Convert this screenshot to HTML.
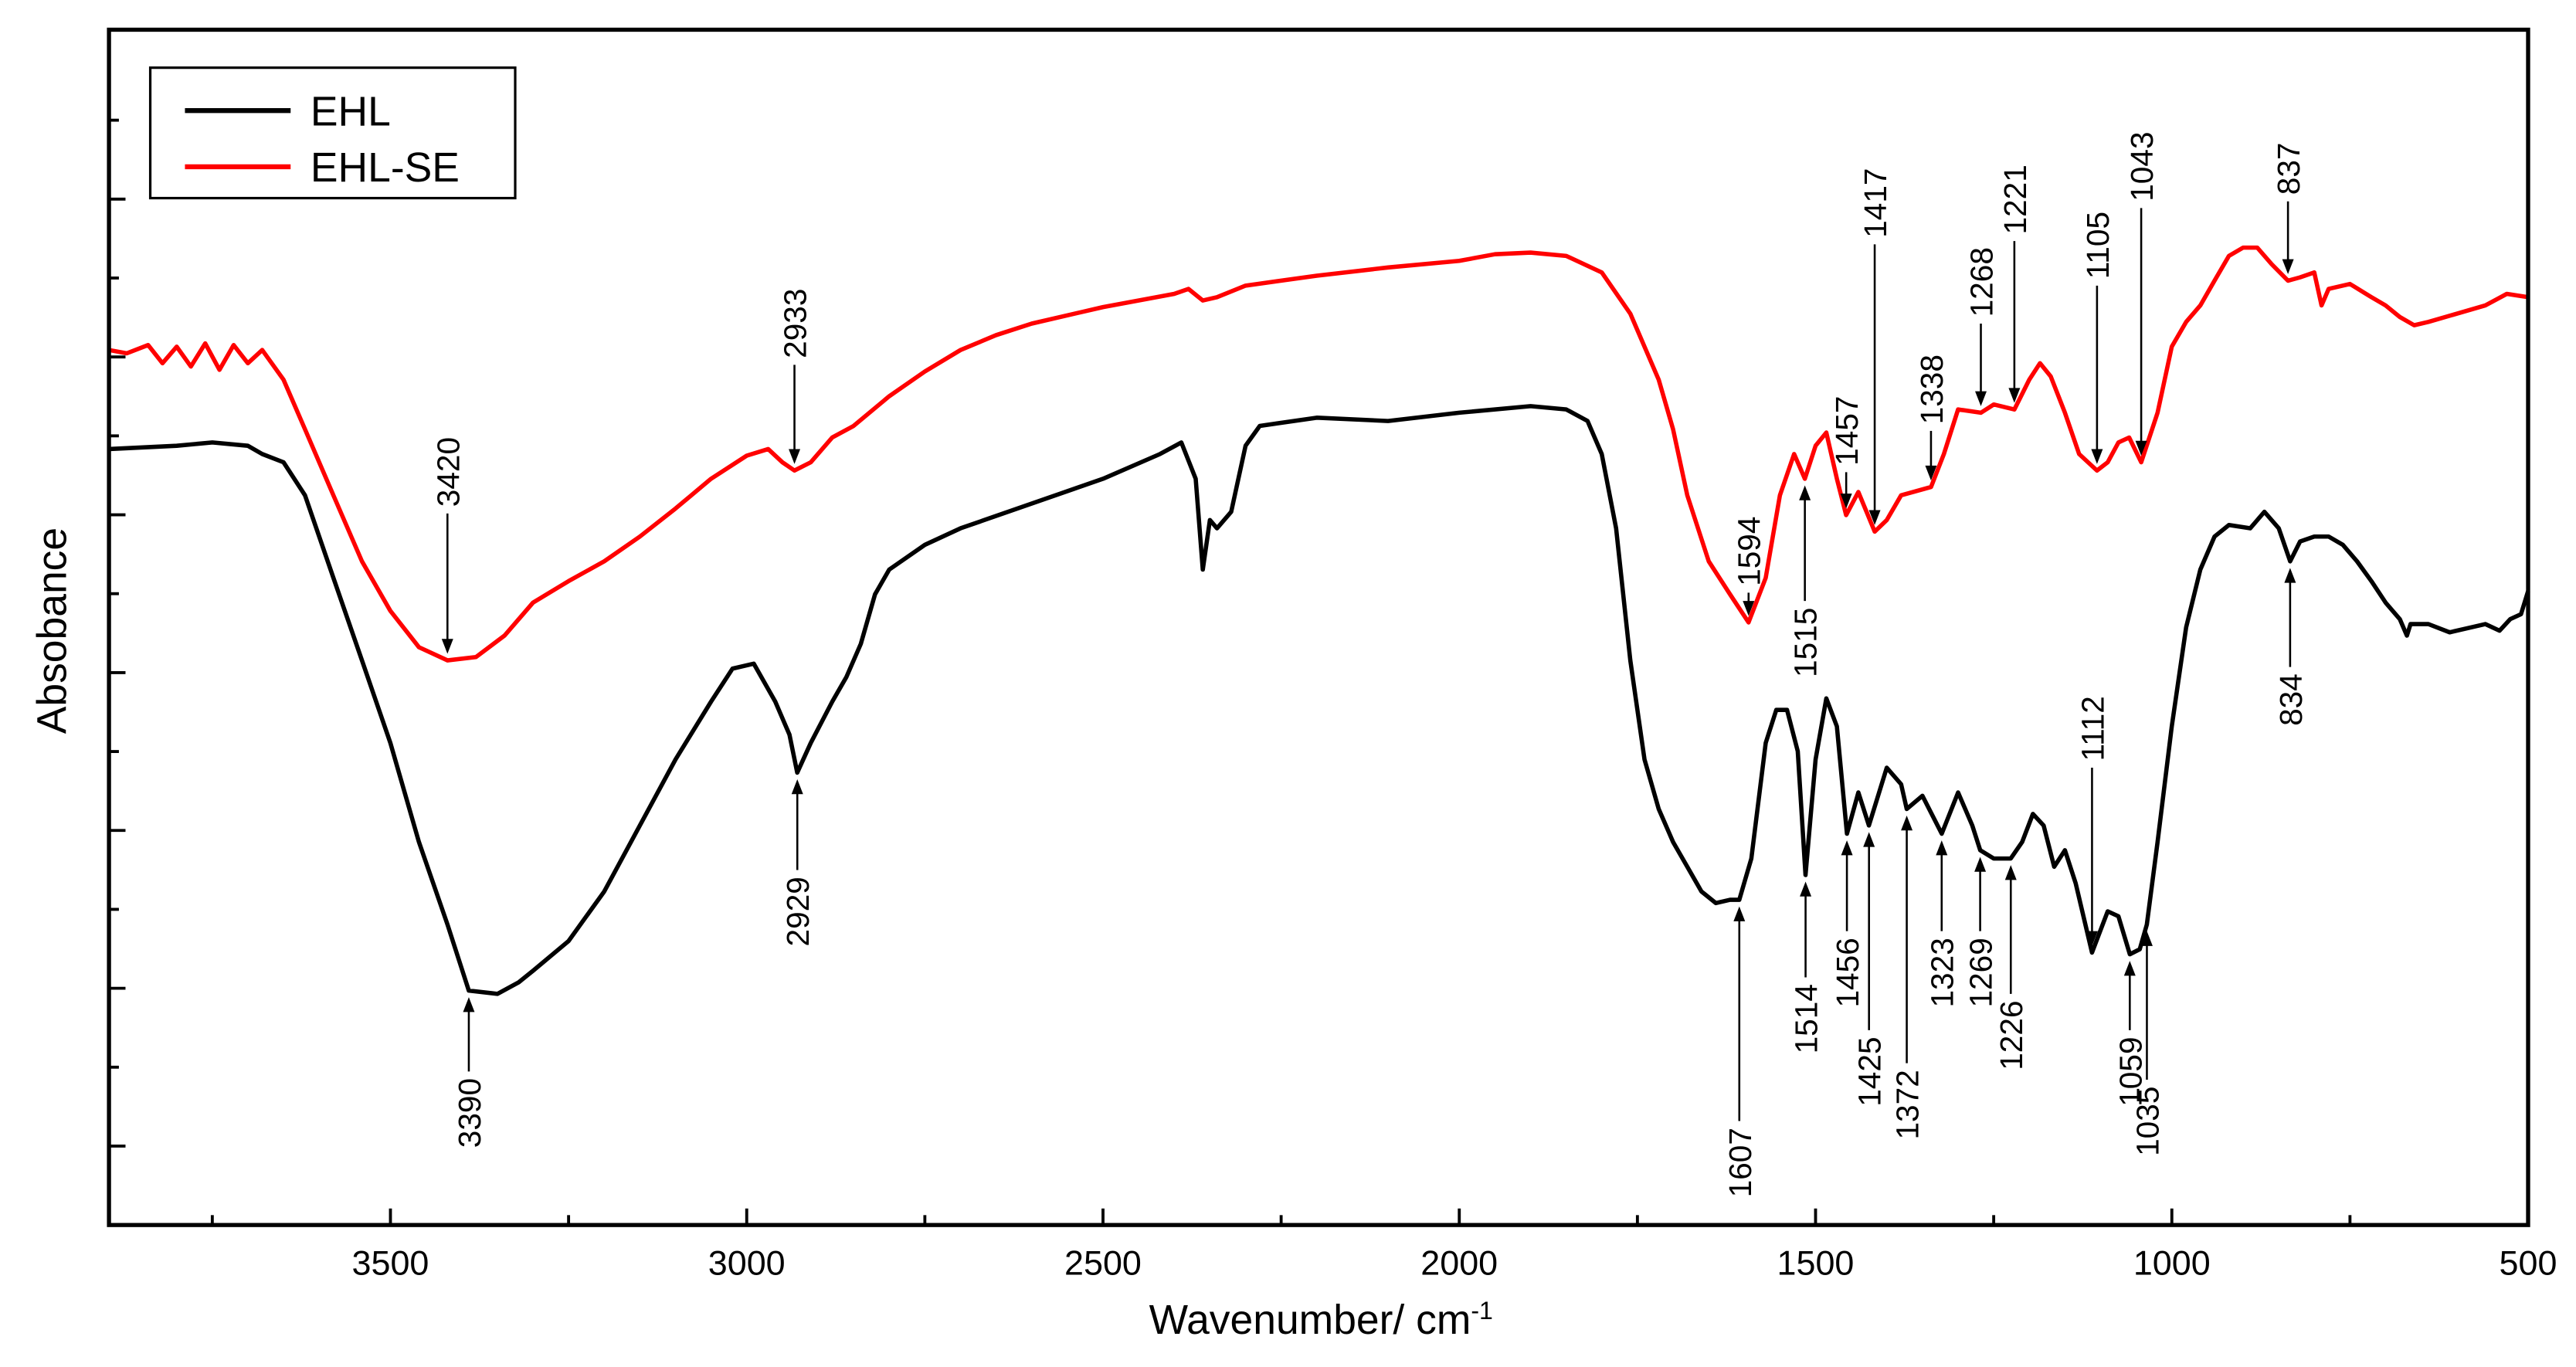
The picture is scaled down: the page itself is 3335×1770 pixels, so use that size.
<!DOCTYPE html>
<html><head><meta charset="utf-8"><style>html,body{margin:0;padding:0;background:#fff}svg{display:block}</style></head>
<body>
<svg id="chart" xmlns="http://www.w3.org/2000/svg" width="3335" height="1770" viewBox="0 0 1560 828" preserveAspectRatio="none" font-family="'Liberation Sans', Arial, sans-serif">
<rect width="1560" height="828" fill="#fff"/>
<g id="plot"></g>
</svg>
<script>
const xTicks = [3500, 3000, 2500, 2000, 1500, 1000, 500];
const ehlWn = [3895,3800,3750,3700,3680,3650,3620,3580,3540,3500,3460,3420,3390,3350,3320,3300,3250,3200,3150,3100,3050,3020,2990,2960,2940,2929,2910,2880,2860,2840,2820,2800,2750,2700,2600,2500,2420,2390,2370,2360,2350,2340,2320,2300,2280,2200,2100,2000,1900,1850,1820,1800,1780,1760,1740,1720,1700,1680,1660,1640,1620,1607,1590,1570,1555,1540,1525,1514,1500,1485,1470,1456,1440,1425,1400,1380,1372,1350,1323,1300,1280,1269,1250,1226,1210,1195,1180,1165,1150,1135,1112,1090,1075,1059,1045,1035,1020,1000,980,960,940,920,890,870,850,834,820,800,780,760,740,720,700,680,670,665,640,610,580,560,540,525,510,500];
const ehlAbs = [4.70,4.72,4.74,4.72,4.67,4.62,4.42,3.92,3.42,2.92,2.32,1.82,1.42,1.40,1.47,1.54,1.72,2.02,2.42,2.82,3.17,3.37,3.40,3.17,2.97,2.74,2.92,3.17,3.32,3.52,3.82,3.97,4.12,4.22,4.37,4.52,4.67,4.74,4.52,3.97,4.27,4.22,4.32,4.72,4.84,4.89,4.87,4.92,4.96,4.94,4.87,4.67,4.22,3.42,2.82,2.52,2.32,2.17,2.02,1.95,1.97,1.97,2.22,2.92,3.12,3.12,2.87,2.12,2.82,3.19,3.02,2.37,2.62,2.42,2.77,2.67,2.52,2.60,2.37,2.62,2.42,2.27,2.22,2.22,2.32,2.49,2.42,2.17,2.27,2.07,1.65,1.90,1.87,1.64,1.67,1.82,2.32,3.02,3.62,3.97,4.17,4.24,4.22,4.32,4.22,4.02,4.14,4.17,4.17,4.12,4.02,3.90,3.77,3.67,3.57,3.64,3.64,3.59,3.62,3.64,3.60,3.67,3.70,3.84];
const seWn = [3895,3870,3840,3820,3800,3780,3760,3740,3720,3700,3680,3650,3620,3580,3540,3500,3460,3420,3380,3340,3300,3250,3200,3150,3100,3050,3000,2970,2950,2933,2910,2880,2850,2800,2750,2700,2650,2600,2500,2400,2380,2360,2340,2300,2200,2100,2000,1950,1900,1850,1800,1760,1720,1700,1680,1650,1620,1594,1570,1550,1530,1515,1500,1485,1470,1457,1440,1417,1400,1380,1338,1320,1300,1268,1250,1221,1200,1185,1170,1150,1130,1105,1090,1075,1060,1043,1020,1000,980,960,940,920,900,880,860,837,820,800,790,780,750,720,700,680,660,640,600,560,530,500];
const seAbs = [5.30,5.28,5.33,5.22,5.32,5.20,5.34,5.18,5.33,5.22,5.30,5.12,4.82,4.42,4.02,3.72,3.50,3.42,3.44,3.57,3.77,3.90,4.02,4.17,4.34,4.52,4.66,4.70,4.62,4.57,4.62,4.77,4.84,5.02,5.17,5.30,5.39,5.46,5.56,5.64,5.67,5.60,5.62,5.69,5.75,5.80,5.84,5.88,5.89,5.87,5.77,5.52,5.12,4.82,4.42,4.02,3.82,3.65,3.92,4.42,4.67,4.52,4.72,4.80,4.52,4.30,4.44,4.20,4.27,4.42,4.47,4.67,4.94,4.92,4.97,4.94,5.12,5.22,5.14,4.92,4.67,4.57,4.62,4.74,4.77,4.62,4.92,5.32,5.47,5.57,5.72,5.87,5.92,5.92,5.82,5.72,5.74,5.77,5.57,5.67,5.70,5.62,5.57,5.50,5.45,5.47,5.52,5.57,5.64,5.62];
const seLabels = [3420,2933,1594,1515,1457,1417,1338,1268,1221,1105,1043,837];
const seDir = ['down','down','down','up','down','down','down','down','down','down','down','down'];
const seLen = [85,60,14,70,22,170,30,50,98,108,150,44];
const ehlLabels = [3390,2929,1607,1514,1456,1425,1372,1323,1269,1226,1112,1059,1035,834];
const ehlDir = ['up','up','up','up','up','up','up','up','up','up','down','up','up','up'];
const ehlLen = [45,55,130,58,55,120,150,55,45,78,108,42,90,60];

const L=66,R=1531,T=18,B=742;
const x = w => L + (3895 - w) / 3395 * (R - L);
const y = a => B - a * 100;
const NS='http://www.w3.org/2000/svg';
const g=document.getElementById('plot');
function mk(tag, attrs, parent){const e=document.createElementNS(NS,tag);for(const k in attrs)e.setAttribute(k,attrs[k]);(parent||g).appendChild(e);return e;}
function interp(ws, as, w){for(let i=0;i<ws.length-1;i++){if(w<=ws[i]&&w>=ws[i+1]){const t=(ws[i]-w)/(ws[i]-ws[i+1]);return as[i]+t*(as[i+1]-as[i]);}}return as[as.length-1];}

function series(ws, as, color, name){
  let d='';ws.forEach((w,i)=>{d+=(i?'L':'M')+x(w).toFixed(1)+','+y(as[i]).toFixed(1);});
  const p=mk('path',{d:d,fill:'none',stroke:color,'stroke-width':2.6,'stroke-linejoin':'round'});
  
  
}
series(seWn, seAbs, '#ff0000', 'ehl-se-line');
series(ehlWn, ehlAbs, '#000', 'ehl-line');

function annotate(ws, as, labels, dirs, lens, prefix){
  labels.forEach((w,i)=>{
    const px=x(w), cy=y(interp(ws,as,w));
    const up=dirs[i]==='up';
    const tip= up? cy+4 : cy-4;
    const tail= up? tip+lens[i] : tip-lens[i];
    const grp=mk('g',{});
    
    
    mk('line',{x1:px,y1:tail,x2:px,y2:up?tip+8:tip-8,stroke:'#000','stroke-width':1.2},grp);
    const s=up?1:-1;
    mk('polygon',{points:`${px},${tip} ${px-3.5},${tip+9*s} ${px+3.5},${tip+9*s}`,fill:'#000'},grp);
    const ly= up? tail+4 : tail-4;
    const t=mk('text',{x:0,y:0,transform:`translate(${px+7},${ly}) rotate(-90)`,'font-size':19,'text-anchor':up?'end':'start',fill:'#000'},grp);
    t.textContent=w;
  });
}
annotate(seWn, seAbs, seLabels, seDir, seLen, 'ehl-se');
annotate(ehlWn, ehlAbs, ehlLabels, ehlDir, ehlLen, 'ehl');

const fr=mk('rect',{x:L,y:T,width:R-L,height:B-T,fill:'none',stroke:'#000','stroke-width':2.5});


for(let w=3750; w>=500; w-=250){
  const major = w%500===0;
  mk('line',{x1:x(w),y1:B,x2:x(w),y2:B-(major?10:6),stroke:'#000','stroke-width':1.8});
}
xTicks.forEach(w=>{
  const t=mk('text',{x:x(w),y:B+30,'font-size':21,'text-anchor':'middle',fill:'#000'});
  
  
  t.textContent=w;
});
for(let k=1;k<15;k++){
  const yy=B-k*47.8; const major=k%2===1;
  mk('line',{x1:L,y1:yy,x2:L+(major?10:6),y2:yy,stroke:'#000','stroke-width':1.8});
}
const xt=mk('text',{x:800,y:808,'font-size':25,'text-anchor':'middle',fill:'#000'});


xt.innerHTML='Wavenumber/ cm<tspan dy="-9" font-size="15">-1</tspan>';
const yt=mk('text',{x:0,y:0,transform:'translate(40,382) rotate(-90)','font-size':25,'text-anchor':'middle',fill:'#000'});


yt.textContent='Absobance';
const lg=mk('g',{});


mk('rect',{x:91,y:41,width:221,height:79,fill:'#fff',stroke:'#000','stroke-width':1.5},lg);
mk('line',{x1:112,y1:67,x2:176,y2:67,stroke:'#000','stroke-width':3},lg);
mk('line',{x1:112,y1:101,x2:176,y2:101,stroke:'#ff0000','stroke-width':3},lg);
const t1=mk('text',{x:188,y:76,'font-size':25,fill:'#000'},lg);t1.textContent='EHL';


const t2=mk('text',{x:188,y:110,'font-size':25,fill:'#000'},lg);t2.textContent='EHL-SE';


</script>
</body></html>
